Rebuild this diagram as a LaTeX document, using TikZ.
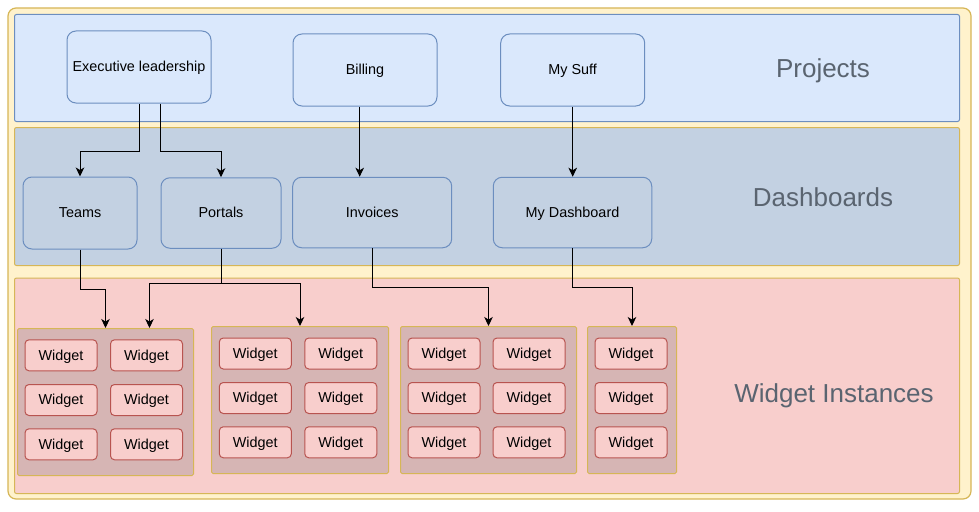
\documentclass[tikz,border=0pt]{standalone}
\usepackage{fontspec}
\setmainfont{Liberation Sans}
\usetikzlibrary{positioning,arrows.meta}
\definecolor{yfill}{HTML}{FFF2CC}\definecolor{ydraw}{HTML}{D6B656}
\definecolor{bfill}{HTML}{DAE8FC}\definecolor{bdraw}{HTML}{6C8EBF}
\definecolor{dfill}{HTML}{C3D1E2}
\definecolor{rfill}{HTML}{F8CECC}\definecolor{rdraw}{HTML}{B85450}
\definecolor{gfill}{HTML}{D6B5B4}\definecolor{lbl}{HTML}{5A6470}
\tikzset{band/.style={draw=ydraw,rectangle,rounded corners=2pt,anchor=north west,inner sep=0pt,line width=1pt},
proj/.style={draw=bdraw,fill=bfill,rectangle,rounded corners=9pt,minimum width=144pt,minimum height=72pt,inner sep=0pt,line width=1pt,font=\fontsize{14.4}{17}\selectfont,text depth=1pt},
dboard/.style={proj,fill=dfill,minimum height=70.5pt},
wgroup/.style={draw=ydraw,fill=gfill,rectangle,rounded corners=1.5pt,anchor=north west,inner sep=0pt,minimum height=147pt,line width=1pt},
widget/.style={draw=rdraw,fill=rfill,rectangle,rounded corners=4pt,minimum width=72pt,minimum height=31pt,inner sep=0pt,line width=1pt,font=\fontsize{14.4}{17}\selectfont,text depth=1pt},
title/.style={text=lbl,font=\fontsize{26}{30}\selectfont},
arr/.style={-{Stealth[length=9pt,width=8.5pt,inset=2.5pt]},line width=1pt}}
\begin{document}
\begin{tikzpicture}[x=1pt,y=-1pt]
\useasboundingbox (0,0) rectangle (979,511);
% layers
\draw[draw=ydraw,fill=yfill,line width=1.2pt,rounded corners=8pt] (8,8) rectangle (971,499);
\node[band,fill=bfill,draw=bdraw,minimum width=945pt,minimum height=107pt] (projband) at (14,14) {};
\node[band,fill=dfill,minimum width=945pt,minimum height=138pt] (dashband) at (14,127) {};
\node[band,fill=rfill,minimum width=945pt,minimum height=215.5pt] (widgetband) at (14,277.5) {};
\node[title] (tproj) at (823,71) {Projects};
\node[title] (tdash) at (823,197) {Dashboards};
\node[title] (twidget) at (834,396) {Widget Instances};
% projects
\node[proj] (exec) at (139,67) {Executive leadership};
\node[proj] (billing) at (365,70) {Billing};
\node[proj] (mysuff) at (572.7,70) {My Suff};
% dashboards
\node[dboard,minimum width=114pt,minimum height=72pt] (teams) at (80,213) {Teams};
\node[dboard,minimum width=120pt] (portals) at (221,213) {Portals};
\node[dboard,minimum width=159pt] (invoices) at (372.2,212.5) {Invoices};
\node[dboard,minimum width=158.5pt] (mydash) at (572.5,212.5) {My Dashboard};
% widget groups
\node[wgroup,minimum width=176pt] (g1) at (17,328) {};
\node[wgroup,minimum width=177pt] (g2) at (211,326) {};
\node[wgroup,minimum width=176pt] (g3) at (400,326) {};
\node[wgroup,minimum width=89pt] (g4) at (587,326) {};
\foreach \r/\y in {1/355.3,2/400,3/444.3}{
  \node[widget] (w1a\r) at (61,\y) {Widget};
  \node[widget] (w1b\r) at (146.5,\y) {Widget};}
\foreach \r/\y in {1/353.5,2/398,3/442.3}{
  \node[widget] (w2a\r) at (255.3,\y) {Widget};
  \node[widget] (w2b\r) at (340.8,\y) {Widget};
  \node[widget] (w3a\r) at (444,\y) {Widget};
  \node[widget] (w3b\r) at (529,\y) {Widget};
  \node[widget] (w4a\r) at (631,\y) {Widget};}
% connectors
\draw[arr] (exec.south) -- ++(0,48) -| (teams.north);
\draw[arr] ([xshift=21.7pt]exec.south) -- ++(0,48) -| (portals.north);
\draw[arr] ([xshift=-5.3pt]billing.south) -- ([xshift=-5.3pt]billing.south |- invoices.north);
\draw[arr] (mysuff.south) -- (mysuff.south |- mydash.north);
\draw[arr] (teams.south) -- ++(0,40) -| (g1.north);
\draw[arr] (portals.south) -- ++(0,35) -| ([xshift=44pt]g1.north);
\draw[arr] (portals.south) -- ++(0,35) -| (g2.north);
\draw[arr] (invoices.south) -- ++(0,39) -| (g3.north);
\draw[arr] (mydash.south) -- ++(0,39) -| (g4.north);
\end{tikzpicture}
\end{document}
